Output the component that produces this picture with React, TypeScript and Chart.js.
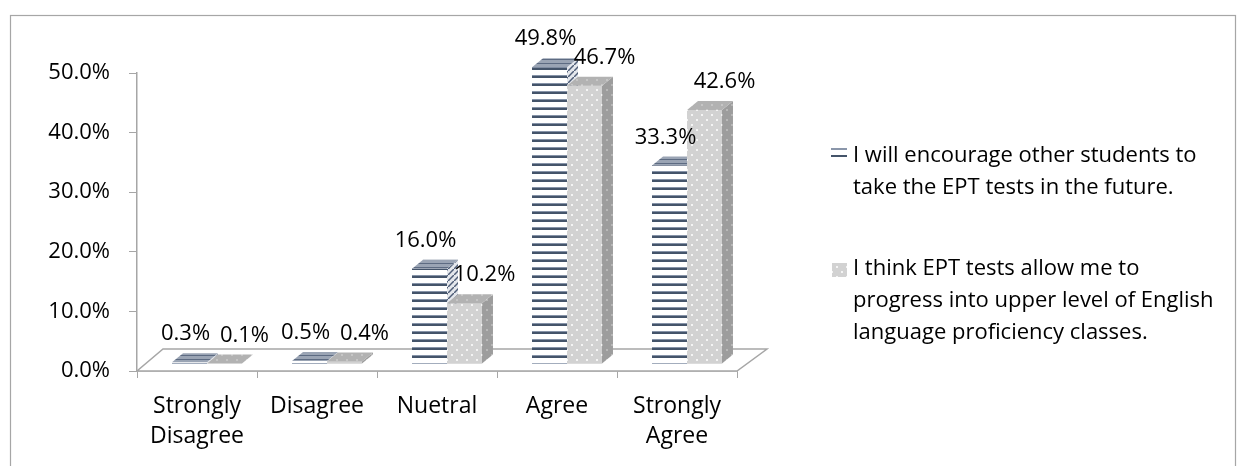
import React, { useEffect, useRef } from 'react';
import { Chart, registerables } from 'chart.js';

Chart.register(...registerables);

// ---------- data ----------
const categories: (string | string[])[] = [['Strongly', 'Disagree'], 'Disagree', 'Nuetral', 'Agree', ['Strongly', 'Agree']];
const encourageValues = [0.3, 0.5, 16.0, 49.8, 33.3];
const progressValues = [0.1, 0.4, 10.2, 46.7, 42.6];
const seriesNames = [
  'I will encourage other students to take the EPT tests in the future.',
  'I think EPT tests allow me to progress into upper level of English language proficiency classes.',
];
const legendLines = [
  ['I will encourage other students to', 'take the EPT tests in the future.'],
  ['I think EPT tests allow me to', 'progress into upper level of English', 'language proficiency classes.'],
];
const yMin = 0;
const yMax = 50;
const yStep = 10;

// ---------- styles ----------
const FONT = '"Open Sans", "Noto Sans", sans-serif';
const NUM_SIZE = 22;
const TEXT_SIZE = 23;
const LEGEND_SIZE = 22;
const AXIS_GRAY = '#a6a6a6';
const SHIFT = { x: 10, y: -7 };
const DEPTH = { x: 11, y: -9 };
const LABEL_DX = [-4, 20];
const LABEL_DY = -28;

function makePattern(ctx: CanvasRenderingContext2D, w: number, h: number, draw: (g: CanvasRenderingContext2D) => void) {
  const c = document.createElement('canvas');
  c.width = w;
  c.height = h;
  const g = c.getContext('2d')!;
  draw(g);
  return ctx.createPattern(c, 'repeat')!;
}

function buildPatterns(ctx: CanvasRenderingContext2D) {
  const blueFront = makePattern(ctx, 8, 8, (g) => {
    g.fillStyle = '#ffffff';
    g.fillRect(0, 0, 8, 8);
    g.fillStyle = '#8693a8';
    g.fillRect(0, 2, 8, 1);
    g.fillStyle = '#44546a';
    g.fillRect(0, 3, 8, 2);
  });
  const blueTop = makePattern(ctx, 6, 4, (g) => {
    g.fillStyle = '#9aa4b4';
    g.fillRect(0, 0, 6, 4);
    g.fillStyle = '#5d6b82';
    g.fillRect(0, 2, 6, 1);
  });
  const blueSide = makePattern(ctx, 6, 6, (g) => {
    g.fillStyle = '#e4e7ec';
    g.fillRect(0, 0, 6, 6);
    g.strokeStyle = '#4f5e78';
    g.lineWidth = 1.5;
    g.beginPath();
    g.moveTo(-1, 7);
    g.lineTo(7, -1);
    g.stroke();
  });
  const dots = (bg: string, dot: string) =>
    makePattern(ctx, 10, 10, (g) => {
      g.fillStyle = bg;
      g.fillRect(0, 0, 10, 10);
      g.fillStyle = dot;
      g.fillRect(1, 1, 2, 2);
      g.fillRect(6, 6, 2, 2);
    });
  const grayFront = dots('#d2d2d2', '#f4f4f4');
  const grayTop = dots('#b2b2b2', '#c6c6c6');
  const graySide = dots('#9d9d9d', '#b8b8b8');
  return {
    front: [blueFront, grayFront],
    top: [blueTop, grayTop],
    side: [blueSide, graySide],
  };
}

export default function App() {
  const ref = useRef<HTMLCanvasElement | null>(null);

  useEffect(() => {
    document.body.style.margin = '0';
    const canvas = ref.current!;
    const ctx0 = canvas.getContext('2d')!;
    const pats = buildPatterns(ctx0);

    const threeD = {
      id: 'threeD',
      beforeDraw(chart: any) {
        const ctx = chart.ctx;
        ctx.save();
        ctx.strokeStyle = '#a6a6a6';
        ctx.lineWidth = 1.2;
        ctx.strokeRect(10.5, 15.5, 1225, 470);
        ctx.restore();
      },
      beforeDatasetsDraw(chart: any) {
        const ctx = chart.ctx;
        const a = chart.chartArea;
        ctx.save();
        ctx.beginPath();
        ctx.moveTo(a.left, a.bottom);
        ctx.lineTo(a.right, a.bottom);
        ctx.lineTo(a.right + 30, a.bottom - 22);
        ctx.lineTo(a.left + 26, a.bottom - 22);
        ctx.closePath();
        ctx.fillStyle = '#ffffff';
        ctx.fill();
        ctx.strokeStyle = AXIS_GRAY;
        ctx.lineWidth = 1.5;
        ctx.stroke();
        ctx.restore();
        ctx.save();
        ctx.translate(SHIFT.x, SHIFT.y);
      },
      afterDatasetsDraw(chart: any) {
        const ctx = chart.ctx;
        chart.data.datasets.forEach((_ds: any, i: number) => {
          const meta = chart.getDatasetMeta(i);
          meta.data.forEach((el: any) => {
            const p = el.getProps(['x', 'y', 'base', 'width'], true);
            const x0 = p.x - p.width / 2;
            const x1 = p.x + p.width / 2;
            const top = Math.min(p.y, p.base);
            const base = Math.max(p.y, p.base);
            ctx.fillStyle = pats.front[i];
            ctx.fillRect(x0, top, x1 - x0, base - top);
            ctx.beginPath();
            ctx.moveTo(x1, top);
            ctx.lineTo(x1 + DEPTH.x, top + DEPTH.y);
            ctx.lineTo(x1 + DEPTH.x, base + DEPTH.y);
            ctx.lineTo(x1, base);
            ctx.closePath();
            ctx.fillStyle = pats.side[i];
            ctx.fill();
            ctx.beginPath();
            ctx.moveTo(x0, top);
            ctx.lineTo(x1, top);
            ctx.lineTo(x1 + DEPTH.x, top + DEPTH.y);
            ctx.lineTo(x0 + DEPTH.x, top + DEPTH.y);
            ctx.closePath();
            ctx.fillStyle = pats.top[i];
            ctx.fill();
          });
        });
        ctx.restore();
        ctx.save();
        ctx.font = `${NUM_SIZE}px ${FONT}`;
        ctx.fillStyle = '#000000';
        ctx.textAlign = 'center';
        ctx.textBaseline = 'middle';
        chart.data.datasets.forEach((ds: any, i: number) => {
          const meta = chart.getDatasetMeta(i);
          meta.data.forEach((el: any, j: number) => {
            const p = el.getProps(['x', 'y'], true);
            const v = ds.data[j];
            ctx.fillText(v.toFixed(1) + '%', p.x + SHIFT.x + LABEL_DX[i], p.y + SHIFT.y + LABEL_DY);
          });
        });
        ctx.restore();
      },
      afterDraw(chart: any) {
        const ctx = chart.ctx;
        ctx.save();
        ctx.fillStyle = '#8a96aa';
        ctx.fillRect(831, 148, 16, 2);
        ctx.fillStyle = '#44546a';
        ctx.fillRect(831, 155, 16, 2);
        ctx.fillStyle = pats.front[1];
        ctx.fillRect(832, 263, 15, 14);
        ctx.font = `${LEGEND_SIZE}px ${FONT}`;
        ctx.fillStyle = '#000000';
        ctx.textAlign = 'left';
        ctx.textBaseline = 'middle';
        const starts = [156, 269];
        legendLines.forEach((lines, k) => {
          lines.forEach((t, n) => ctx.fillText(t, 853, starts[k] + n * 32));
        });
        ctx.restore();
      },
    };

    const chart = new Chart(canvas, {
      type: 'bar',
      data: {
        labels: categories as any,
        datasets: [
          {
            label: seriesNames[0],
            data: encourageValues,
            backgroundColor: pats.front[0],
            borderWidth: 0,
            clip: false as any,
          },
          {
            label: seriesNames[1],
            data: progressValues,
            backgroundColor: pats.front[1],
            borderWidth: 0,
            clip: false as any,
          },
        ],
      },
      options: {
        animation: false,
        responsive: true,
        maintainAspectRatio: false,
        categoryPercentage: 0.583,
        barPercentage: 1,
        layout: { padding: { top: 73, left: 0, right: 508, bottom: 0 } },
        plugins: {
          legend: { display: false },
          tooltip: { enabled: false },
        },
        scales: {
          x: {
            offset: true,
            grid: { display: true, drawOnChartArea: false, drawTicks: true, tickLength: 7, color: AXIS_GRAY, offset: true },
            border: { display: true, color: AXIS_GRAY, width: 1.5 },
            ticks: {
              color: '#000000',
              font: { family: FONT, size: TEXT_SIZE, lineHeight: 1.3 },
              padding: 14,
              maxRotation: 0,
              autoSkip: false,
            },
            afterFit: (s: any) => {
              s.height = 95;
            },
          },
          y: {
            min: yMin,
            max: yMax,
            ticks: {
              stepSize: yStep,
              color: '#000000',
              font: { family: FONT, size: NUM_SIZE },
              padding: 19,
              callback: (v: any) => Number(v).toFixed(1) + '%',
            },
            grid: { display: true, drawOnChartArea: false, drawTicks: true, tickLength: 8, color: AXIS_GRAY },
            border: { display: true, color: AXIS_GRAY, width: 1.5 },
            afterFit: (s: any) => {
              s.width = 137;
            },
          },
        },
      } as any,
      plugins: [threeD],
    });
    return () => chart.destroy();
  }, []);

  return (
    <div style={{ position: 'relative', width: '1245px', height: '466px' }}>
      <canvas ref={ref} />
    </div>
  );
}
